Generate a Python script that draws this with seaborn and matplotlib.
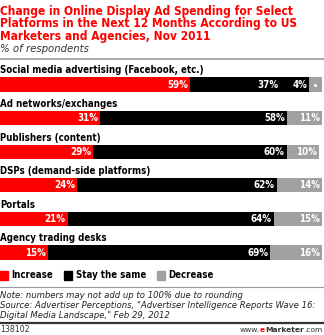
import matplotlib
matplotlib.use("Agg")
import matplotlib.pyplot as plt
from matplotlib.lines import Line2D
import seaborn as sns
import pandas as pd

categories = ["Social media advertising (Facebook, etc.)", "Ad networks/exchanges",
              "Publishers (content)", "DSPs (demand-side platforms)", "Portals",
              "Agency trading desks"]
increase = [59, 31, 29, 24, 21, 15]
same = [37, 58, 60, 62, 64, 69]
decrease = [4, 11, 10, 14, 15, 16]
series_names = ["Increase", "Stay the same", "Decrease"]

RED = "#ff0000"
BLACK = "#000000"
GRAY = "#a0a0a0"

W, H = 324, 335
fig = plt.figure(figsize=(W / 100, H / 100), dpi=100)
fig.patch.set_facecolor("white")

def fy(py):
    return 1 - py / H

def fx(px):
    return px / W

COND = dict(family="DejaVu Sans", stretch="condensed")

df = pd.DataFrame({"cat": categories, "inc": increase, "same": same, "dec": decrease})
df["c2"] = df["inc"] + df["same"]
df["c3"] = df["c2"] + df["dec"]

top_px, bot_px = 67.7, 269.3
ax = fig.add_axes([0, fy(bot_px), fx(322), (bot_px - top_px) / H])
bw = 0.42
sns.barplot(data=df, x="c3", y="cat", color=GRAY, width=bw, orient="h", ax=ax,
            saturation=1, edgecolor="none", linewidth=0)
sns.barplot(data=df, x="c2", y="cat", color=BLACK, width=bw, orient="h", ax=ax,
            saturation=1, edgecolor="none", linewidth=0)
sns.barplot(data=df, x="inc", y="cat", color=RED, width=bw, orient="h", ax=ax,
            saturation=1, edgecolor="none", linewidth=0)
ax.set_xlim(0, 100)
ax.set_ylim(5.5, -0.5)
ax.axis("off")

vfs = 7.0
for i, r in df.iterrows():
    ax.text(0, i - 0.42, r["cat"], fontsize=6.9, fontweight="bold", ha="left",
            va="center", color="black", **COND)
    ax.text(r["inc"] - 0.6, i, f"{r['inc']}%", color="white", fontsize=vfs,
            fontweight="bold", ha="right", va="center", **COND)
    if r["dec"] < 6:
        ax.text(r["c2"] - 0.6, i, f"{r['dec']}%", color="white", fontsize=vfs,
                fontweight="bold", ha="right", va="center", **COND)
        ax.plot([r["c2"] + r["dec"] / 2 - 0.3], [i], marker="o", ms=2.2,
                color="white", mec="none")
        ax.text(r["c2"] - 9.5, i, f"{r['same']}%", color="white", fontsize=vfs,
                fontweight="bold", ha="right", va="center", **COND)
    else:
        ax.text(r["c2"] - 0.6, i, f"{r['same']}%", color="white", fontsize=vfs,
                fontweight="bold", ha="right", va="center", **COND)
        ax.text(r["c3"] - 0.6, i, f"{r['dec']}%", color="white", fontsize=vfs,
                fontweight="bold", ha="right", va="center", **COND)

# header
title = ("Change in Online Display Ad Spending for Select\n"
         "Platforms in the Next 12 Months According to US\n"
         "Marketers and Agencies, Nov 2011")
fig.text(0, fy(4.5), title, color=RED, fontsize=8.6, fontweight="bold",
         ha="left", va="top", linespacing=0.97, **COND)
fig.text(0, fy(48.5), "% of respondents", fontsize=7.3, style="italic", ha="left",
         va="center", color="#333333")
fig.add_artist(Line2D([0, 1], [fy(58.5), fy(58.5)], color="#999999", lw=1.2))

# legend
leg_y = 275
items = [(0, "Increase", RED), (64, "Stay the same", BLACK), (157, "Decrease", GRAY)]
for x0, lab, col in items:
    fig.patches.append(plt.Rectangle((fx(x0), fy(leg_y + 4.5)), fx(7.5), 9 / H,
                                     transform=fig.transFigure, color=col,
                                     figure=fig))
    fig.text(fx(x0 + 11.5), fy(leg_y), lab, fontsize=6.9, fontweight="bold",
             ha="left", va="center", **COND)

# footer
fig.add_artist(Line2D([0, 1], [fy(287), fy(287)], color="#999999", lw=0.8))
note = ("Note: numbers may not add up to 100% due to rounding\n"
        "Source: Advertiser Perceptions, \"Advertiser Intelligence Reports Wave 16:\n"
        "Digital Media Landscape,\" Feb 29, 2012")
fig.text(0, fy(290.5), note, fontsize=6.15, style="italic", ha="left", va="top",
         linespacing=1.2, color="#222222")
fig.add_artist(Line2D([0, 1], [fy(323), fy(323)], color="#333333", lw=1.6))
fig.text(0, fy(330), "138102", fontsize=5.6, ha="left", va="center", color="#333333")

# www.eMarketer.com built from pieces, left to right
fig.canvas.draw()
rend = fig.canvas.get_renderer()
pieces = [("www.", "normal", "#333333"), ("e", "bold", RED),
          ("Marketer", "bold", "#333333"), (".com", "normal", "#333333")]
arts = []
for s, wt, col in pieces:
    t = fig.text(0, fy(330), s, fontsize=5.4, fontweight=wt, color=col,
                 ha="left", va="center")
    arts.append(t)
widths = [a.get_window_extent(rend).width for a in arts]
x = 322 - sum(widths)
for a, w in zip(arts, widths):
    a.set_x(x / W)
    x += w

fig.savefig("out.png", dpi=100, facecolor="white")
